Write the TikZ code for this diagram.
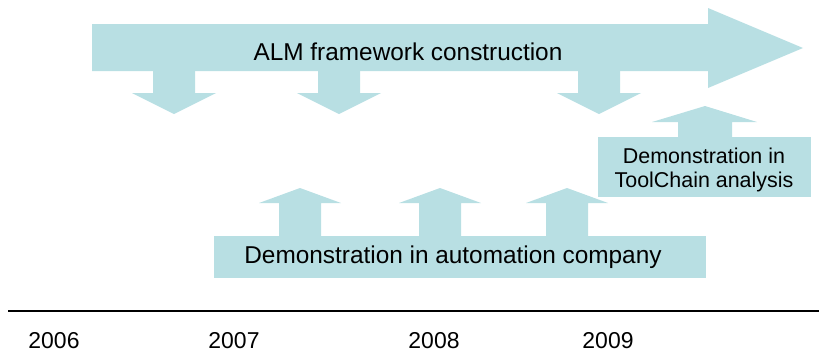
\documentclass[tikz,border=0pt]{standalone}
\usepackage{fontspec}
\setmainfont{Liberation Sans}
\definecolor{blockblue}{RGB}{184,223,227}

\begin{document}
\begin{tikzpicture}[
    x=0.03cm,
    y=-0.03cm,
    block/.style={fill=blockblue},
    label/.style={font=\fontsize{20.8}{25}\selectfont, inner sep=0pt},
    small label/.style={font=\fontsize{18.3}{20.5}\selectfont, inner sep=0pt, align=center},
    year/.style={font=\fontsize{19.6}{24}\selectfont, inner sep=0pt, anchor=base}
]
    \useasboundingbox (0,0) rectangle (819,353);

    % Framework arrow
    \fill[block] (92,24) -- (708,24) -- (708,8) -- (803,48) -- (708,88) -- (708,71) -- (92,71) -- cycle;
    \node[label, anchor=base] (alm) at (408,60) {ALM framework construction};

    % Arrows down from the framework
    \foreach \x in {174, 339, 599}
        \fill[block] (\x-21,71) -- (\x+21,71) -- (\x+21,93) -- (\x+42,93)
            -- (\x,114) -- (\x-42,93) -- (\x-21,93) -- cycle;

    % Automation company
    \fill[block] (214,236) rectangle (706,278);
    \node[label, anchor=base] (automation) at (453,263) {Demonstration in automation company};
    % Arrows up from the company
    \foreach \x in {300, 440, 567}
        \fill[block] (\x-21,236) -- (\x-21,203) -- (\x-41,203) -- (\x,188)
            -- (\x+41,203) -- (\x+21,203) -- (\x+21,236) -- cycle;

    % ToolChain analysis
    \fill[block] (598,137) rectangle (811,197);
    \node[small label] (toolchain) at (704,169.5) {Demonstration in\\ToolChain analysis};
    \fill[block] (678,137) -- (678,122) -- (652,122) -- (705,106) -- (757,122)
        -- (732,122) -- (732,137) -- cycle;

    % Time line
    \draw[line width=1.3pt] (8,311) -- (819,311);
    \foreach \yr/\x in {2006/54, 2007/234, 2008/434, 2009/608}
        \node[year] (y\yr) at (\x,348) {\yr};

\end{tikzpicture}
\end{document}
